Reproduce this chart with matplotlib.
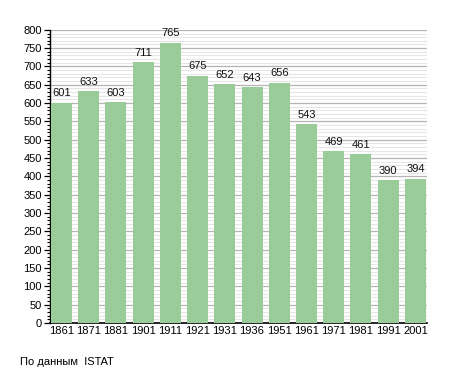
import matplotlib
matplotlib.use("Agg")
import matplotlib.pyplot as plt
import numpy as np
from matplotlib.ticker import MultipleLocator

# ── data ──────────────────────────────────────────────────────────────────────
years = ["1861", "1871", "1881", "1901", "1911", "1921", "1931",
         "1936", "1951", "1961", "1971", "1981", "1991", "2001"]
population = [601, 633, 603, 711, 765, 675, 652, 643, 656, 543, 469, 461, 390, 394]
source_note = "По данным  ISTAT"

plt.rcParams["font.family"] = ["Liberation Sans", "DejaVu Sans"]

fig = plt.figure(figsize=(4.55, 3.73), dpi=100)
ax = fig.add_axes([0.110, 0.134, 0.828, 0.786])

x = np.arange(len(years))
ax.bar(x, population, width=0.77, color="#99cc99", zorder=3)
for xi, v in zip(x, population):
    ax.text(xi, v + 12, str(v), ha="center", va="bottom", fontsize=8,
            color="#111111", zorder=4)

ax.set_xlim(-0.42, 13.42)
ax.set_ylim(0, 800)
ax.yaxis.set_major_locator(MultipleLocator(50))
ax.yaxis.set_minor_locator(MultipleLocator(10))
ax.grid(True, which="major", axis="y", color="#b4b4b4", linewidth=0.9, zorder=1)
ax.grid(True, which="minor", axis="y", color="#e6e6e6", linewidth=0.8, zorder=1)

ax.set_xticks(x)
ax.set_xticklabels(years, fontsize=8)
ax.tick_params(axis="x", length=0, pad=2)
ax.tick_params(axis="y", which="major", labelsize=8, length=4, width=0.9, pad=2)
ax.tick_params(axis="y", which="minor", length=2, width=0.8)

ax.spines[["top", "right"]].set_visible(False)
ax.spines["left"].set_linewidth(1.0)
ax.spines["bottom"].set_linewidth(1.2)

fig.text(20 / 455, 1 - 362 / 373, source_note, fontsize=8, va="center", ha="left")

fig.savefig("out.png", dpi=100)
